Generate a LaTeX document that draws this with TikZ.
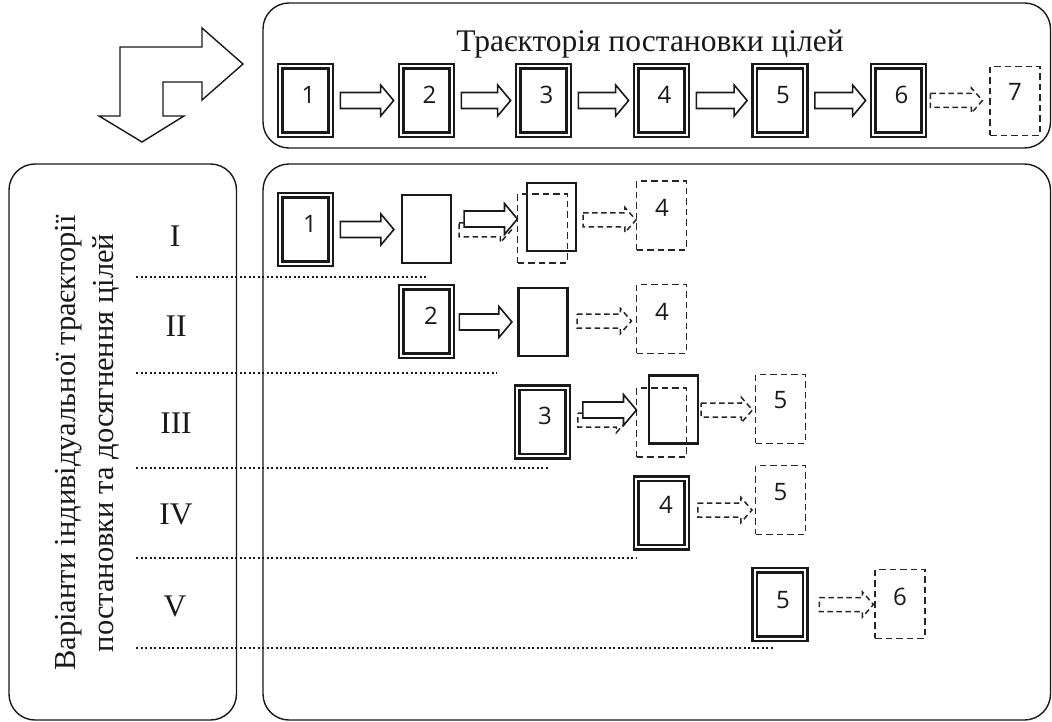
\documentclass[tikz,border=0pt]{standalone}
\usepackage{fontspec}
\setmainfont{Liberation Serif}
\newfontfamily\numfont{Open Sans}
\usetikzlibrary{calc}
\newcommand\harrowS[2]{\draw[sarrow] let \p1=(#1), \p2=(#2) in
  (\x1,\y1+8pt) -- (\x2-13pt,\y1+8pt) -- (\x2-13pt,\y1+15.5pt) -- (\x2,\y1)
  -- (\x2-13pt,\y1-15.5pt) -- (\x2-13pt,\y1-8pt) -- (\x1,\y1-8pt) -- cycle;}
\newcommand\harrowD[2]{\draw[qarrow] let \p1=(#1), \p2=(#2) in
  (\x1,\y1+7pt) -- (\x2-11pt,\y1+7pt) -- (\x2-11pt,\y1+12.5pt) -- (\x2,\y1)
  -- (\x2-11pt,\y1-12.5pt) -- (\x2-11pt,\y1-7pt) -- (\x1,\y1-7pt) -- cycle;}
\begin{document}
\begin{tikzpicture}[x=1pt,y=-1pt,
  panel/.style={draw=black!90, line width=1.4pt, rounded corners=26pt},
  dbox/.style={draw=black!90, double, line width=2.2pt, double distance=2.3pt,
    minimum width=50.5pt, minimum height=68.5pt, inner sep=0pt},
  sbox/.style={draw=black!90, line width=2.2pt, minimum width=49pt, minimum height=68pt, inner sep=0pt},
  qbox/.style={draw=black!85, line width=1.5pt, dash pattern=on 6.5pt off 4pt,
    minimum width=49.6pt, minimum height=68.6pt, inner sep=0pt},
  num/.style={font=\numfont\fontsize{24pt}{24pt}\selectfont, inner sep=0pt, text=black!90},
  serif/.style={font=\fontsize{31.5pt}{38pt}\selectfont, inner sep=0pt, text=black!90},
  sarrow/.style={draw=black!90, line width=1.6pt, fill=white},
  qarrow/.style={draw=black!85, line width=1.5pt, dash pattern=on 5.5pt off 3.5pt},
  dotline/.style={draw=black!90, line width=2pt, dash pattern=on 2pt off 2.5pt}]
\useasboundingbox (0,0) rectangle (1052,722);
% panels
\draw[panel] (263,3) rectangle (1050.5,148);
\draw[panel] (9,164) rectangle (236.5,720);
\draw[panel] (263,164) rectangle (1050.5,720);
% bent arrow
\draw[draw=black!90, line width=1.4pt] (120,47) -- (202,47) -- (202,28) -- (243,64) -- (202,100)
  -- (202,82) -- (163,82) -- (163,116) -- (184,116) -- (142,142) -- (99,116) -- (120,116) -- cycle;
% title
\node[serif, anchor=base] (title) at (650,52) {Траєкторія постановки цілей};
% top trajectory
\foreach \i/\x in {1/305.5,2/426.5,3/543.5,4/661.5,5/780,6/898.5}{
  \node[dbox] (t\i) at (\x,100.5) {};
  \node[num] (t\i n) at ($(t\i)+(3,-5.5)$) {\i};
}
\node[qbox] (t7) at (1015,101) {};
\node[num] (t7n) at ($(t7)+(0,-9)$) {7};
\foreach \a/\b in {1/2,2/3,3/4,4/5,5/6}{
  \harrowS{$(t\a.east)+(8.5,0)$}{$(t\b.west)+(-6.5,0)$}
}
\harrowD{$(t6.east)+(5.5,0)$}{$(t7.west)+(-7,0)$}
% left panel text
\node[serif, font=\fontsize{30.5pt}{38pt}\selectfont, rotate=90, align=center] (vt) at (87,443)
  {Варіанти індивідуальної траєкторії\\постановки та досягнення цілей};
\node[serif] (rI) at (175,236) {I};
\node[serif] (rII) at (176,326) {II};
\node[serif] (rIII) at (176,423.5) {III};
\node[serif] (rIV) at (176,514) {IV};
\node[serif] (rV) at (175,606) {V};
% dotted separators
\draw[dotline] (136,277) -- (428,277);
\draw[dotline] (136,373) -- (497,373);
\draw[dotline] (136,468) -- (549,468);
\draw[dotline] (136,558) -- (637,558);
\draw[dotline] (136,648) -- (773,648);
% row I
\node[dbox] (r1a) at (305.5,229.5) {};
\node[num] (r1an) at (310,223.5) {1};
\node[sbox] (r1b) at (426.5,229) {};
\node[sbox] (r1c) at (551.5,217) {};
\node[qbox] (r1d) at (542.5,228.5) {};
\node[qbox] (r1e) at (661.5,215.5) {};
\node[num] (r1en) at (662,207.5) {4};
\harrowS{$(r1a.east)+(8.5,0)$}{$(r1b.west)+(-7,0)$}
\harrowD{$(r1b.east)+(7,1)$}{$(r1d.west)+(-5.5,0)$}
\harrowS{$(r1b.east)+(12,-10)$}{$(r1d.west)+(0.5,0)$}
\harrowD{$(r1c.east)+(6,3)$}{$(r1e.west)+(0,0)$}
% row II
\node[dbox] (r2a) at (426.5,321.5) {};
\node[num] (r2an) at (431,316) {2};
\node[sbox] (r2b) at (543,322) {};
\node[qbox] (r2c) at (661.5,319) {};
\node[num] (r2cn) at (662,312) {4};
\harrowS{$(r2a.east)+(6.5,0.5)$}{$(r2b.west)+(-5.5,0)$}
\harrowD{$(r2b.east)+(8.5,-1)$}{$(r2c.west)+(-4.5,0)$}
% row III
\node[dbox] (r3a) at (542.5,422) {};
\node[num] (r3an) at (545,416) {3};
\node[sbox] (r3c) at (673.5,409.5) {};
\node[qbox] (r3d) at (661.5,422.5) {};
\node[qbox] (r3e) at (780.5,409) {};
\node[num] (r3en) at (780.5,400.5) {5};
\harrowD{$(r3a.east)+(9,-2)$}{$(r3d.west)+(-8.5,0)$}
\harrowS{$(r3a.east)+(14,-12)$}{$(r3d.west)+(0.5,0)$}
\harrowD{$(r3c.east)+(2,0.5)$}{$(r3e.west)+(-2.5,0)$}
% row IV
\node[dbox] (r4a) at (661.5,513) {};
\node[num] (r4an) at (666,505) {4};
\node[qbox] (r4b) at (780.5,500) {};
\node[num] (r4bn) at (780.5,492) {5};
\harrowD{$(r4a.east)+(10,-3)$}{$(r4b.west)+(-3,0)$}
% row V
\node[dbox] (r5a) at (780,604.5) {};
\node[num] (r5an) at (783,600) {5};
\node[qbox] (r5b) at (900,604) {};
\node[num] (r5bn) at (900,596.5) {6};
\harrowD{$(r5a.east)+(13,0)$}{$(r5b.west)+(-1,0)$}
\end{tikzpicture}
\end{document}
